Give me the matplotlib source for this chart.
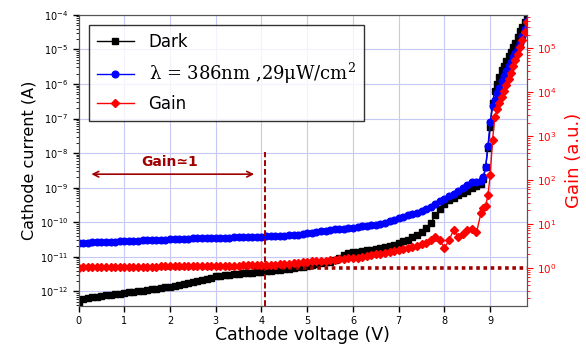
import matplotlib
matplotlib.use("Agg")
import matplotlib.pyplot as plt
from matplotlib.ticker import LogLocator, NullFormatter
import numpy as np

# cathode voltage (V)
voltage = [0.0, 0.1, 0.2, 0.3, 0.4, 0.5, 0.6, 0.7, 0.8, 0.9,
           1.0, 1.1, 1.2, 1.3, 1.4, 1.5, 1.6, 1.7, 1.8, 1.9,
           2.0, 2.1, 2.2, 2.3, 2.4, 2.5, 2.6, 2.7, 2.8, 2.9,
           3.0, 3.1, 3.2, 3.3, 3.4, 3.5, 3.6, 3.7, 3.8, 3.9,
           4.0, 4.1, 4.2, 4.3, 4.4, 4.5, 4.6, 4.7, 4.8, 4.9,
           5.0, 5.1, 5.2, 5.3, 5.4, 5.5, 5.6, 5.7, 5.8, 5.9,
           6.0, 6.1, 6.2, 6.3, 6.4, 6.5, 6.6, 6.7, 6.8, 6.9,
           7.0, 7.1, 7.2, 7.3, 7.4, 7.5, 7.6, 7.7, 7.8, 7.9,
           8.0, 8.1, 8.2, 8.3, 8.4, 8.5, 8.6, 8.7, 8.8,
           8.85, 8.9, 8.95, 9.0, 9.05, 9.1, 9.15, 9.2, 9.25, 9.3,
           9.35, 9.4, 9.45, 9.5, 9.55, 9.6, 9.65, 9.7, 9.75, 9.8]

# log10 of dark current (A)
dark_exp = [-12.38, -12.22, -12.19, -12.17, -12.15, -12.14, -12.12, -12.10, -12.08, -12.07,
            -12.05, -12.03, -12.01, -12.00, -11.98, -11.96, -11.94, -11.92, -11.90, -11.88,
            -11.86, -11.84, -11.81, -11.78, -11.75, -11.72, -11.69, -11.66, -11.63, -11.60,
            -11.57, -11.56, -11.54, -11.53, -11.51, -11.50, -11.48, -11.47, -11.46, -11.44,
            -11.43, -11.42, -11.40, -11.39, -11.37, -11.36, -11.34, -11.33, -11.31, -11.30,
            -11.28, -11.25, -11.21, -11.18, -11.16, -11.14, -11.10, -11.03, -10.96, -10.90,
            -10.87, -10.85, -10.83, -10.81, -10.79, -10.77, -10.75, -10.73, -10.69, -10.65,
            -10.60, -10.55, -10.50, -10.44, -10.38, -10.28, -10.18, -10.02, -9.80, -9.62,
            -9.48, -9.37, -9.30, -9.22, -9.16, -9.10, -9.02, -8.96, -8.90,
            -8.75, -8.40, -7.85, -7.25, -6.55, -6.20, -6.00, -5.80, -5.60, -5.47,
            -5.34, -5.20, -5.07, -4.93, -4.80, -4.64, -4.48, -4.35, -4.22, -4.06]

# log10 of current under 386 nm illumination (A)
photo_exp = [-10.60, -10.59, -10.59, -10.58, -10.58, -10.57, -10.57, -10.56, -10.56, -10.55,
             -10.54, -10.54, -10.53, -10.53, -10.52, -10.52, -10.51, -10.51, -10.50, -10.50,
             -10.49, -10.49, -10.48, -10.48, -10.48, -10.47, -10.47, -10.47, -10.46, -10.46,
             -10.46, -10.45, -10.45, -10.45, -10.44, -10.44, -10.44, -10.43, -10.43, -10.42,
             -10.42, -10.41, -10.41, -10.40, -10.40, -10.39, -10.38, -10.37, -10.36, -10.34,
             -10.32, -10.30, -10.28, -10.26, -10.24, -10.22, -10.21, -10.20, -10.19, -10.18,
             -10.16, -10.14, -10.12, -10.11, -10.09, -10.07, -10.04, -10.01, -9.97, -9.93,
             -9.88, -9.84, -9.80, -9.76, -9.72, -9.67, -9.62, -9.56, -9.47, -9.39,
             -9.32, -9.25, -9.17, -9.09, -9.01, -8.93, -8.84, -8.85, -8.82,
             -8.68, -8.40, -7.80, -7.10, -6.65, -6.45, -6.27, -6.12, -5.90, -5.76,
             -5.62, -5.48, -5.35, -5.22, -5.10, -4.97, -4.80, -4.62, -4.42, -4.18]

# log10 of gain
gain_exp = [0.00, 0.01, 0.01, 0.01, 0.01, 0.01, 0.01, 0.01, 0.02, 0.02,
            0.02, 0.02, 0.02, 0.02, 0.02, 0.02, 0.02, 0.02, 0.03, 0.03,
            0.03, 0.03, 0.03, 0.03, 0.03, 0.03, 0.03, 0.03, 0.03, 0.03,
            0.03, 0.03, 0.04, 0.04, 0.04, 0.04, 0.05, 0.05, 0.05, 0.05,
            0.06, 0.06, 0.07, 0.07, 0.08, 0.08, 0.09, 0.10, 0.11, 0.12,
            0.13, 0.14, 0.15, 0.15, 0.16, 0.17, 0.18, 0.19, 0.20, 0.21,
            0.22, 0.23, 0.25, 0.26, 0.28, 0.30, 0.32, 0.34, 0.36, 0.38,
            0.40, 0.42, 0.44, 0.47, 0.50, 0.53, 0.57, 0.63, 0.69, 0.62,
            0.45, 0.62, 0.86, 0.70, 0.76, 0.86, 0.88, 0.80, 1.25,
            1.35, 1.40, 1.65, 2.10, 2.90, 3.42, 3.60, 3.75, 3.88, 4.02,
            4.15, 4.30, 4.42, 4.58, 4.73, 4.85, 5.02, 5.17, 5.35, 5.58]

labels = ['Dark', 'λ = 386nm ,29μW/cm$^{2}$', 'Gain']

dark_red = '#a00000'
grid_col = '#c8c8f5'
frame_col = '#555555'

plt.rcParams['mathtext.fontset'] = 'dejavuserif'

fig = plt.figure(figsize=(5.86, 3.54), dpi=100)
ax = fig.add_axes([0.134, 0.136, 0.765, 0.822])
ax2 = ax.twinx()

v = np.array(voltage)
h1, = ax.plot(v, 10 ** np.array(dark_exp), color='black', marker='s', ms=4.2, lw=1, zorder=3)
h2, = ax.plot(v, 10 ** np.array(photo_exp), color='blue', marker='o', ms=4.8, lw=1, zorder=3)
h3, = ax2.plot(v, 10 ** np.array(gain_exp), color='red', marker='D', ms=4.2, lw=1, zorder=3)

# gain = 1 reference
ax2.axhline(1, color=dark_red, lw=2.6, linestyle=(0, (1, 1)), zorder=2)

ax.set_yscale('log')
ax2.set_yscale('log')
ax.set_xlim(0, 9.8)
ax.set_ylim(10 ** -12.42, 1e-4)
ax2.set_ylim(10 ** -0.87, 10 ** 5.75)

ax.yaxis.set_major_locator(LogLocator(base=10, numticks=20))
ax.yaxis.set_minor_locator(LogLocator(base=10, subs=np.arange(2, 10), numticks=20))
ax.yaxis.set_minor_formatter(NullFormatter())
ax2.yaxis.set_major_locator(LogLocator(base=10, numticks=20))
ax2.yaxis.set_minor_locator(LogLocator(base=10, subs=np.arange(2, 10), numticks=20))
ax2.yaxis.set_minor_formatter(NullFormatter())
ax.set_xticks(range(10))

ax.grid(True, which='major', color=grid_col, lw=0.8)
ax.set_axisbelow(True)

ax.tick_params(axis='both', which='major', labelsize=7, length=4, width=1)
ax.tick_params(axis='y', which='minor', length=2)
ax2.tick_params(axis='y', which='major', labelsize=7.5, length=4, colors='red')
ax2.tick_params(axis='y', which='minor', length=2, colors='red')

for a in (ax, ax2):
    for s in a.spines.values():
        s.set_color(frame_col)

ax.set_xlabel('Cathode voltage (V)', fontsize=12.5, labelpad=0)
ax.set_ylabel('Cathode current (A)', fontsize=11.5, labelpad=2)
ax2.set_ylabel('Gain (a.u.)', fontsize=13, color='red', labelpad=6)

# Gain ~ 1 region annotation
ax.plot([4.07, 4.07], [10 ** -12.42, 10 ** -7.96], color=dark_red, lw=1.4,
        linestyle=(0, (3, 1.5)), zorder=4)
ax.annotate('', xy=(0.22, 10 ** -8.61), xytext=(3.9, 10 ** -8.61),
            arrowprops=dict(arrowstyle='<->', color=dark_red, lw=1.2))
ax.text(2.0, 10 ** -8.25, 'Gain≃1', color=dark_red, fontsize=10, fontweight='bold',
        ha='center', va='center')

leg = ax2.legend([h1, h2, h3], labels, loc='upper left', fontsize=12,
                 frameon=True, fancybox=False, edgecolor='black',
                 handlelength=2.2, handletextpad=0.9, labelspacing=0.55,
                 borderaxespad=0.6, borderpad=0.5)
leg.get_frame().set_linewidth(1)
leg.get_texts()[1].set_family('DejaVu Serif')
leg.get_texts()[1].set_fontsize(13)

fig.savefig('out.png', dpi=100)
